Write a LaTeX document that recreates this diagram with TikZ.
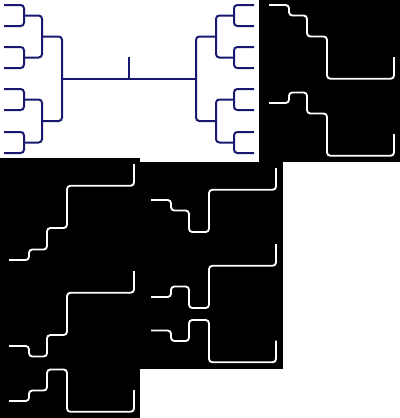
\documentclass[tikz,border=0pt]{standalone}
\usepackage{tikz}
\definecolor{bracketnavy}{RGB}{24,24,112}

% one half of the bracket, leaves on the left
\newcommand{\halfbracket}{%
	\foreach \ya/\yb in {5/26, 47/68, 89/110, 132/153}
		\draw[brline] (4,\ya) -- (24,\ya) -- (24,\yb) -- (4,\yb);
	\foreach \ya/\yb in {15.5/57.5, 99.5/142.5}
		\draw[brline] (24,\ya) -- (42,\ya) -- (42,\yb) -- (24,\yb);
	\draw[brline] (42,36.5) -- (62,36.5) -- (62,121) -- (42,121);
}

\begin{document}
\begin{tikzpicture}[x=0.75pt, y=-0.75pt,
	brline/.style={draw=bracketnavy, line width=1.5pt, rounded corners=2.5pt},
	routeline/.style={draw=white, line width=1.4pt, rounded corners=2.5pt}]
	\useasboundingbox (0,0) rectangle (400,418);
	
	% the bracket
	\halfbracket
	\begin{scope}[shift={(258,0)}, xscale=-1]
		\halfbracket
	\end{scope}
	\coordinate (root) at (129,78.75);
	\coordinate (tick) at (129,57);
	\draw[brline] (62,78.75) -- (196,78.75);
	\draw[brline] (root) -- (tick);
	
	% black panels
	\fill[black] (259,0) rectangle (400,162);
	\fill[black] (0,158) rectangle (140,418);
	\fill[black] (140,162) rectangle (283,369);
	
	% one route from a leaf to the root, per copy
	\foreach \dx/\dy/\ya/\yb/\yc in {265/0/5/15.5/36.5, 265/77/26/15.5/36.5,
		5/107/153/142.5/121, 5/214/132/142.5/121, 5/333/68/57.5/36.5,
		147/111/89/99.5/121, 147/187/110/99.5/121, 147/283.5/47/57.5/36.5}
	{
		\begin{scope}[shift={(\dx,\dy)}]
			\coordinate (leaf) at (4,\ya);
			\coordinate (croot) at (129,78.75);
			\coordinate (ctick) at (129,57);
			\draw[routeline] (leaf) -- (24,\ya) -- (24,\yb) -- (42,\yb) -- (42,\yc)
				-- (62,\yc) -- (62,78.75) -- (croot) -- (ctick);
		\end{scope}
	}
\end{tikzpicture}
\end{document}
